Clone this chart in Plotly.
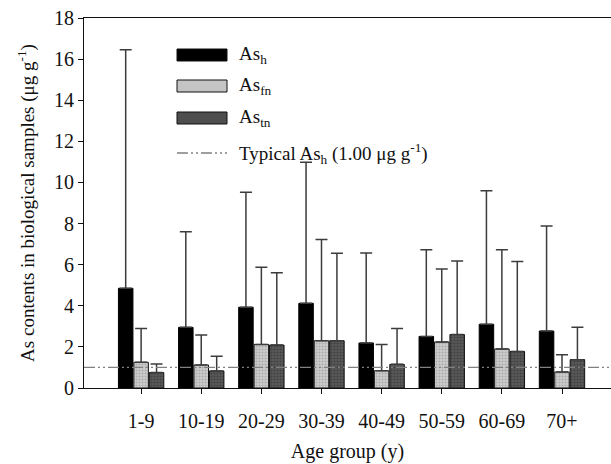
import plotly.graph_objects as go

categories = ["1-9", "10-19", "20-29", "30-39", "40-49", "50-59", "60-69", "70+"]
ash_mean = [4.85, 2.95, 3.93, 4.12, 2.19, 2.51, 3.10, 2.77]
ash_upper = [16.45, 7.60, 9.52, 10.98, 6.57, 6.73, 9.60, 7.88]
asfn_mean = [1.25, 1.12, 2.12, 2.30, 0.84, 2.24, 1.90, 0.78]
asfn_upper = [2.90, 2.58, 5.87, 7.22, 2.12, 5.79, 6.72, 1.62]
astn_mean = [0.75, 0.83, 2.09, 2.30, 1.15, 2.60, 1.78, 1.38]
astn_upper = [1.17, 1.54, 5.61, 6.55, 2.90, 6.18, 6.16, 2.95]
typical_ash = 1.00
y_ticks = [0, 2, 4, 6, 8, 10, 12, 14, 16, 18]
legend_labels = ["As<sub>h</sub>", "As<sub>fn</sub>", "As<sub>tn</sub>",
                 "Typical As<sub>h</sub> (1.00 μg g<sup>-1</sup>)"]

FONT = "Liberation Serif"
W, H = 611, 464
ML, MR, MT, MB = 84, 0, 18, 76
PW, PH = W - ML - MR, H - MT - MB

FN_STYLE = dict(bg="#cdcdcd", fg="#8a8a8a")
TN_STYLE = dict(bg="#5a5a5a", fg="#262626")


def err(mean, upper):
    return dict(type="data", symmetric=False,
                array=[u - m for m, u in zip(mean, upper)],
                arrayminus=[0] * len(mean),
                color="#3c3c3c", thickness=1.5, width=6)


fig = go.Figure()
fig.add_trace(go.Bar(
    x=categories, y=ash_mean, name=legend_labels[0], showlegend=False,
    marker=dict(color="#000000", line=dict(color="#000000", width=1)),
    error_y=err(ash_mean, ash_upper)))
fig.add_trace(go.Bar(
    x=categories, y=asfn_mean, name=legend_labels[1], showlegend=False,
    marker=dict(color=FN_STYLE["bg"], line=dict(color="#111111", width=1),
                pattern=dict(shape=".", bgcolor=FN_STYLE["bg"], fgcolor=FN_STYLE["fg"],
                             size=3, solidity=0.4, fillmode="overlay")),
    error_y=err(asfn_mean, asfn_upper)))
fig.add_trace(go.Bar(
    x=categories, y=astn_mean, name=legend_labels[2], showlegend=False,
    marker=dict(color=TN_STYLE["bg"], line=dict(color="#111111", width=1),
                pattern=dict(shape=".", bgcolor=TN_STYLE["bg"], fgcolor=TN_STYLE["fg"],
                             size=3, solidity=0.4, fillmode="overlay")),
    error_y=err(astn_mean, astn_upper)))

DASH = "11px,3px,2px,3px,2px,3px"
fig.add_hline(y=typical_ash, line=dict(color="#808080", width=1.3, dash=DASH),
              layer="above")


# ---- manual legend (wide swatches, as in the reference) ----
def px_x(px):
    return (px - ML) / PW


def px_y(py):
    return (H - MB - py) / PH


rows_py = [55, 86, 118, 153]
sw_x0, sw_x1, txt_x = 177, 227, 237
fills = ["#000000", "#c4c4c4", "#4e4e4e"]
for i in range(3):
    cy = rows_py[i]
    fig.add_shape(type="rect", xref="paper", yref="paper",
                  x0=px_x(sw_x0), x1=px_x(sw_x1),
                  y0=px_y(cy + 6), y1=px_y(cy - 6),
                  fillcolor=fills[i], line=dict(color="#111111", width=1))
fig.add_shape(type="line", xref="paper", yref="paper",
              x0=px_x(sw_x0), x1=px_x(sw_x1),
              y0=px_y(rows_py[3]), y1=px_y(rows_py[3]),
              line=dict(color="#808080", width=1.3, dash=DASH))
for i, lab in enumerate(legend_labels):
    fig.add_annotation(xref="paper", yref="paper", x=px_x(txt_x), y=px_y(rows_py[i]),
                       text=lab, showarrow=False, xanchor="left", yanchor="middle",
                       font=dict(family=FONT, size=19, color="#111111"))

fig.update_layout(
    width=W, height=H,
    margin=dict(l=ML, r=MR, t=MT, b=MB),
    paper_bgcolor="white", plot_bgcolor="white",
    font=dict(family=FONT, size=20, color="#111111"),
    barmode="group", bargap=0.23, bargroupgap=0.06,
    showlegend=False,
)
fig.update_xaxes(
    type="category", range=[-0.95, 7.815],
    showline=True, linecolor="#111111", linewidth=1.2, mirror=True,
    ticks="outside", ticklen=5, tickcolor="#111111",
    showgrid=False, zeroline=False, ticklabelstandoff=10,
    title=dict(text="Age group (y)", font=dict(family=FONT, size=20), standoff=12),
    tickfont=dict(family=FONT, size=20))
fig.update_yaxes(
    range=[0, 18], tickvals=y_ticks,
    showline=True, linecolor="#111111", linewidth=1.2,
    ticks="outside", ticklen=5, tickcolor="#111111",
    showgrid=False, zeroline=False,
    title=dict(text="As contents in biological samples (μg g<sup>-1</sup>)",
               font=dict(family=FONT, size=19), standoff=14),
    tickfont=dict(family=FONT, size=20))

fig.write_html("out.html")
